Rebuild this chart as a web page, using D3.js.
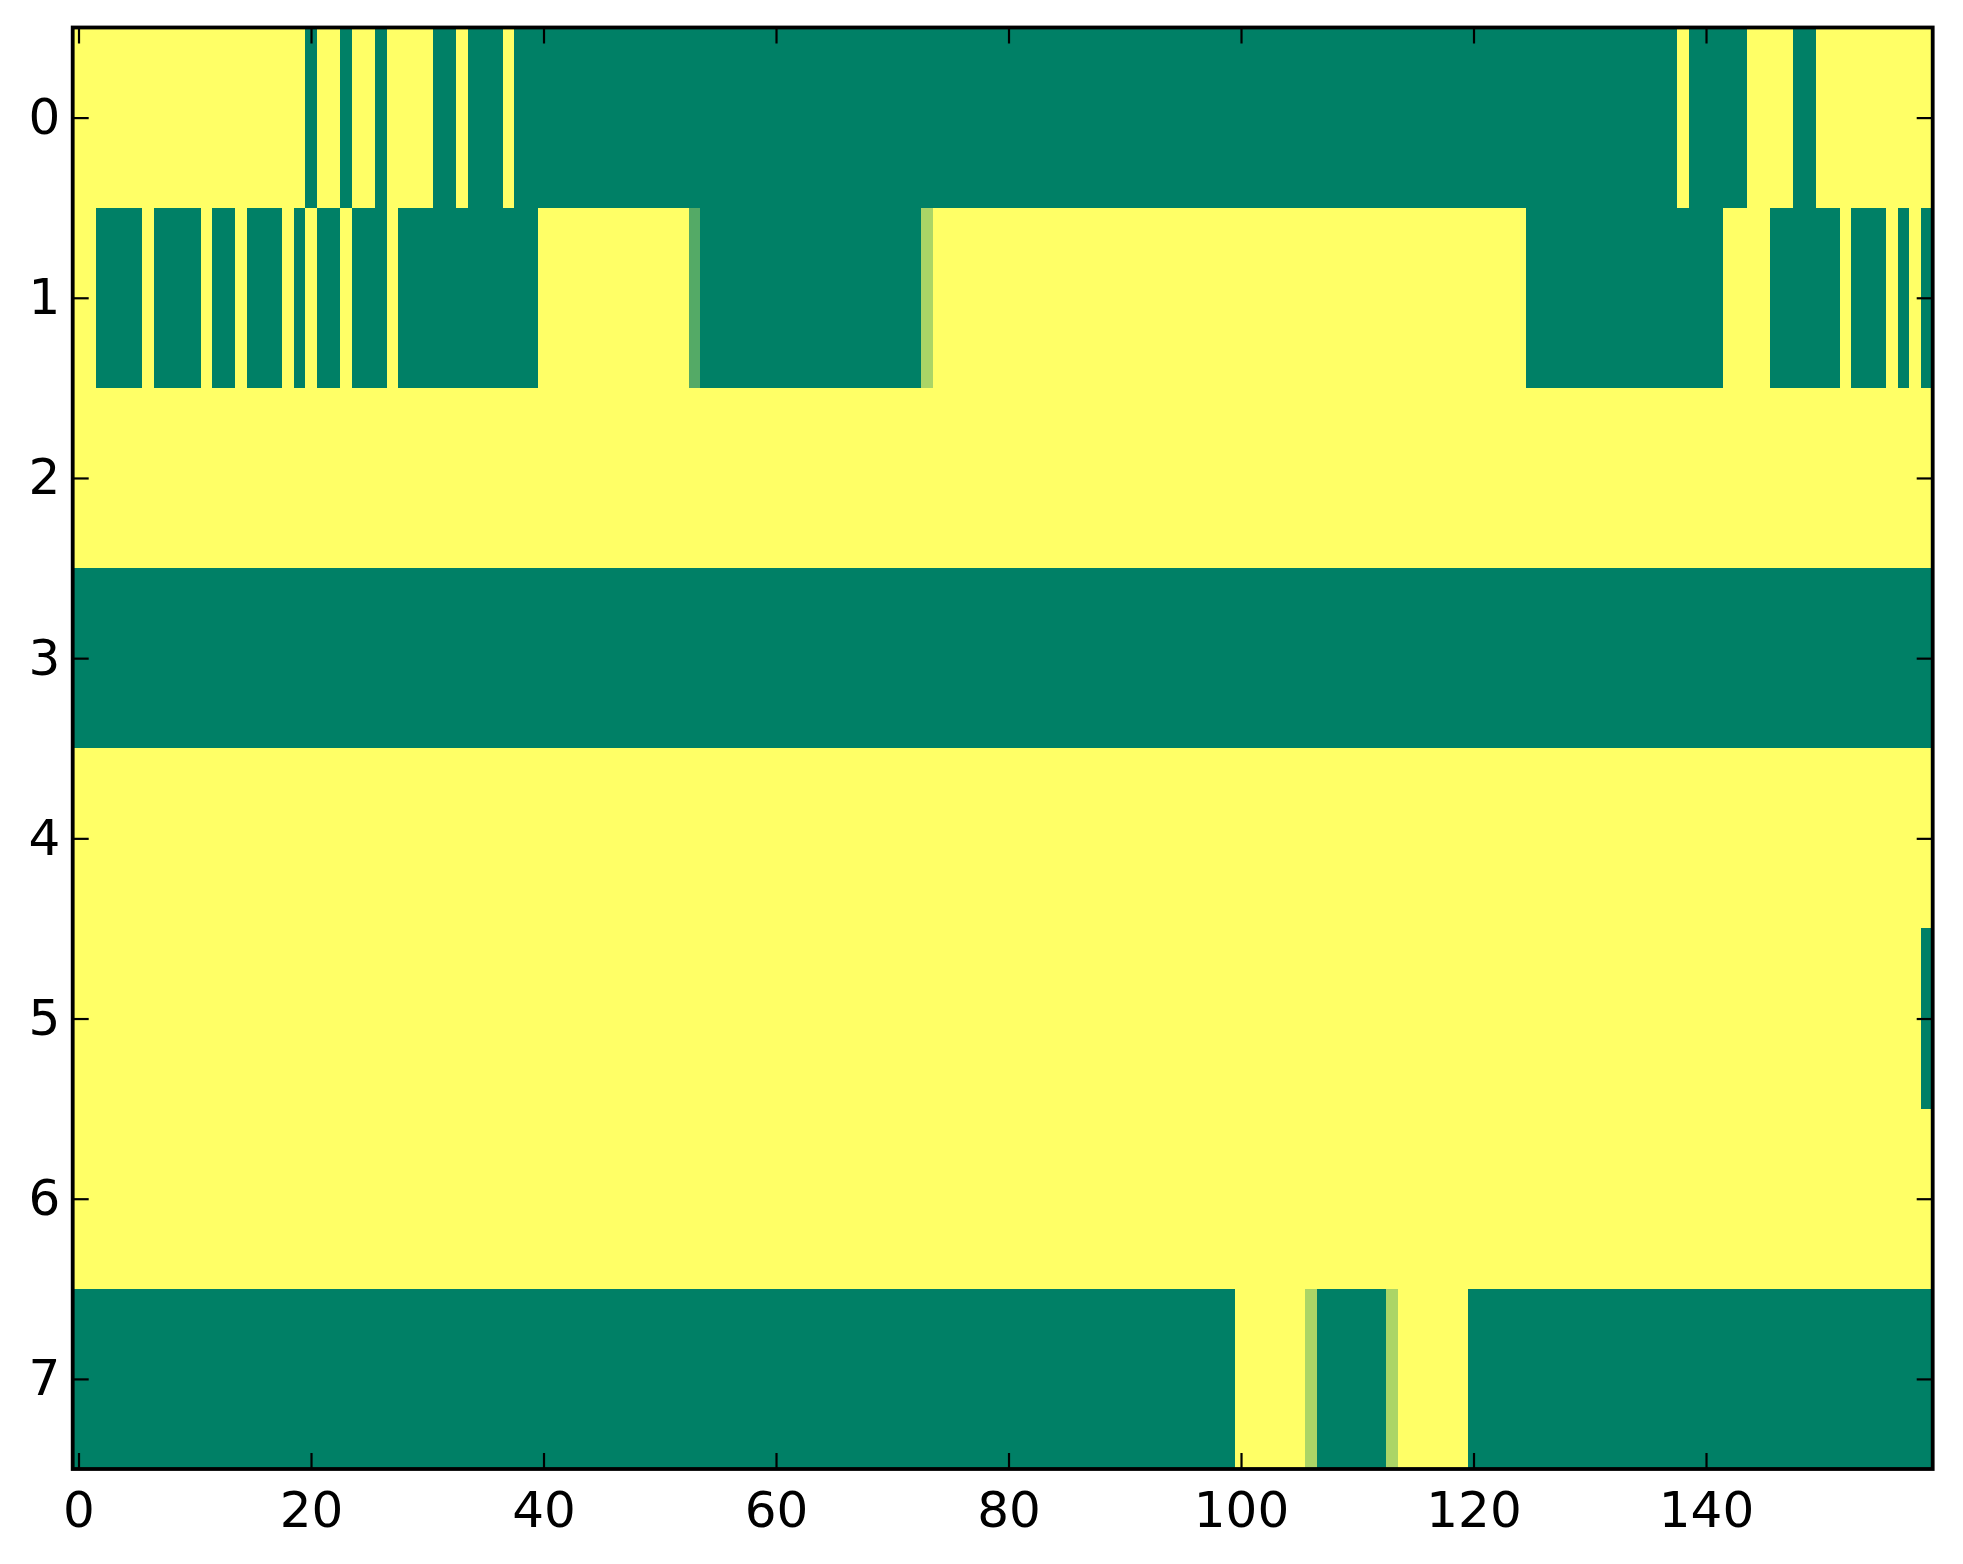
<!DOCTYPE html>
<html>
<head>
<meta charset="utf-8">
<script src="https://cdn.jsdelivr.net/npm/d3@7"></script>
<style>
  body { margin: 0; background: #fff; }
  svg { display: block; }
  .tick text { font-family: "DejaVu Sans", sans-serif; font-size: 50px; fill: #000; }
</style>
</head>
<body>
<div id="chart"></div>
<script>
(function() {
"use strict"

// rows of the image, 160 columns each (0 = green end, 1 = yellow end)
var row0 = [
  1,1,1,1,1,1,1,1,1,1,1,1,1,1,1,1,1,1,1,1, 0,1,1,0,1,1,0,1,1,1,1,0,0,1,0,0,0,1,0,0,
  0,0,0,0,0,0,0,0,0,0,0,0,0,0,0,0,0,0,0,0, 0,0,0,0,0,0,0,0,0,0,0,0,0,0,0,0,0,0,0,0,
  0,0,0,0,0,0,0,0,0,0,0,0,0,0,0,0,0,0,0,0, 0,0,0,0,0,0,0,0,0,0,0,0,0,0,0,0,0,0,0,0,
  0,0,0,0,0,0,0,0,0,0,0,0,0,0,0,0,0,0,1,0, 0,0,0,0,1,1,1,1,0,0,1,1,1,1,1,1,1,1,1,1
];
var row1 = [
  1,1,0,0,0,0,1,0,0,0,0,1,0,0,1,0,0,0,1,0, 1,0,0,1,0,0,0,1,0,0,0,0,0,0,0,0,0,0,0,0,
  1,1,1,1,1,1,1,1,1,1,1,1,1,0.33,0,0,0,0,0,0, 0,0,0,0,0,0,0,0,0,0,0,0,0,0.67,1,1,1,1,1,1,
  1,1,1,1,1,1,1,1,1,1,1,1,1,1,1,1,1,1,1,1, 1,1,1,1,1,1,1,1,1,1,1,1,1,1,1,1,1,1,1,1,
  1,1,1,1,1,0,0,0,0,0,0,0,0,0,0,0,0,0,0,0, 0,0,1,1,1,1,0,0,0,0,0,0,1,0,0,0,1,0,1,0
];
var row2 = [
  1,1,1,1,1,1,1,1,1,1,1,1,1,1,1,1,1,1,1,1, 1,1,1,1,1,1,1,1,1,1,1,1,1,1,1,1,1,1,1,1,
  1,1,1,1,1,1,1,1,1,1,1,1,1,1,1,1,1,1,1,1, 1,1,1,1,1,1,1,1,1,1,1,1,1,1,1,1,1,1,1,1,
  1,1,1,1,1,1,1,1,1,1,1,1,1,1,1,1,1,1,1,1, 1,1,1,1,1,1,1,1,1,1,1,1,1,1,1,1,1,1,1,1,
  1,1,1,1,1,1,1,1,1,1,1,1,1,1,1,1,1,1,1,1, 1,1,1,1,1,1,1,1,1,1,1,1,1,1,1,1,1,1,1,1
];
var row3 = [
  0,0,0,0,0,0,0,0,0,0,0,0,0,0,0,0,0,0,0,0, 0,0,0,0,0,0,0,0,0,0,0,0,0,0,0,0,0,0,0,0,
  0,0,0,0,0,0,0,0,0,0,0,0,0,0,0,0,0,0,0,0, 0,0,0,0,0,0,0,0,0,0,0,0,0,0,0,0,0,0,0,0,
  0,0,0,0,0,0,0,0,0,0,0,0,0,0,0,0,0,0,0,0, 0,0,0,0,0,0,0,0,0,0,0,0,0,0,0,0,0,0,0,0,
  0,0,0,0,0,0,0,0,0,0,0,0,0,0,0,0,0,0,0,0, 0,0,0,0,0,0,0,0,0,0,0,0,0,0,0,0,0,0,0,0
];
var row4 = [
  1,1,1,1,1,1,1,1,1,1,1,1,1,1,1,1,1,1,1,1, 1,1,1,1,1,1,1,1,1,1,1,1,1,1,1,1,1,1,1,1,
  1,1,1,1,1,1,1,1,1,1,1,1,1,1,1,1,1,1,1,1, 1,1,1,1,1,1,1,1,1,1,1,1,1,1,1,1,1,1,1,1,
  1,1,1,1,1,1,1,1,1,1,1,1,1,1,1,1,1,1,1,1, 1,1,1,1,1,1,1,1,1,1,1,1,1,1,1,1,1,1,1,1,
  1,1,1,1,1,1,1,1,1,1,1,1,1,1,1,1,1,1,1,1, 1,1,1,1,1,1,1,1,1,1,1,1,1,1,1,1,1,1,1,1
];
var row5 = [
  1,1,1,1,1,1,1,1,1,1,1,1,1,1,1,1,1,1,1,1, 1,1,1,1,1,1,1,1,1,1,1,1,1,1,1,1,1,1,1,1,
  1,1,1,1,1,1,1,1,1,1,1,1,1,1,1,1,1,1,1,1, 1,1,1,1,1,1,1,1,1,1,1,1,1,1,1,1,1,1,1,1,
  1,1,1,1,1,1,1,1,1,1,1,1,1,1,1,1,1,1,1,1, 1,1,1,1,1,1,1,1,1,1,1,1,1,1,1,1,1,1,1,1,
  1,1,1,1,1,1,1,1,1,1,1,1,1,1,1,1,1,1,1,1, 1,1,1,1,1,1,1,1,1,1,1,1,1,1,1,1,1,1,1,0
];
var row6 = [
  1,1,1,1,1,1,1,1,1,1,1,1,1,1,1,1,1,1,1,1, 1,1,1,1,1,1,1,1,1,1,1,1,1,1,1,1,1,1,1,1,
  1,1,1,1,1,1,1,1,1,1,1,1,1,1,1,1,1,1,1,1, 1,1,1,1,1,1,1,1,1,1,1,1,1,1,1,1,1,1,1,1,
  1,1,1,1,1,1,1,1,1,1,1,1,1,1,1,1,1,1,1,1, 1,1,1,1,1,1,1,1,1,1,1,1,1,1,1,1,1,1,1,1,
  1,1,1,1,1,1,1,1,1,1,1,1,1,1,1,1,1,1,1,1, 1,1,1,1,1,1,1,1,1,1,1,1,1,1,1,1,1,1,1,1
];
var row7 = [
  0,0,0,0,0,0,0,0,0,0,0,0,0,0,0,0,0,0,0,0, 0,0,0,0,0,0,0,0,0,0,0,0,0,0,0,0,0,0,0,0,
  0,0,0,0,0,0,0,0,0,0,0,0,0,0,0,0,0,0,0,0, 0,0,0,0,0,0,0,0,0,0,0,0,0,0,0,0,0,0,0,0,
  0,0,0,0,0,0,0,0,0,0,0,0,0,0,0,0,0,0,0,0, 1,1,1,1,1,1,0.67,0,0,0,0,0,0,0.67,1,1,1,1,1,1,
  0,0,0,0,0,0,0,0,0,0,0,0,0,0,0,0,0,0,0,0, 0,0,0,0,0,0,0,0,0,0,0,0,0,0,0,0,0,0,0,0
];
var rows = [row0, row1, row2, row3, row4, row5, row6, row7];

var xTicks = [0, 20, 40, 60, 80, 100, 120, 140];
var yTicks = [0, 1, 2, 3, 4, 5, 6, 7];

var W = 1963, H = 1564;
var margin = {top: 27.5, right: 30.3, bottom: 95, left: 72.7};
var width = W - margin.left - margin.right,
    height = H - margin.top - margin.bottom;

var svg = d3.select("#chart").append("svg")
    .attr("width", W)
    .attr("height", H);

var g = svg.append("g")
    .attr("transform", "translate(" + margin.left + "," + margin.top + ")");

var ncol = rows[0].length;
var xscale = d3.scaleLinear().domain([-0.5, ncol - 0.5]).range([0, width]);
var yscale = d3.scaleLinear().domain([-0.5, rows.length - 0.5]).range([0, height]);

// matplotlib "summer": (v, 0.5+0.5v, 0.4)
var color = d3.scaleLinear().domain([0, 1]).range(["#008066", "#ffff66"]);

var cells = [];
rows.forEach(function(r, i) {
    r.forEach(function(v, j) { cells.push({row: i, col: j, v: v}); });
});

g.append("g").selectAll("rect")
    .data(cells)
    .enter().append("rect")
    .attr("x", function(d) { return xscale(d.col - 0.5); })
    .attr("y", function(d) { return yscale(d.row - 0.5); })
    .attr("width", function(d) { return xscale(d.col + 0.5) - xscale(d.col - 0.5) + 0.5; })
    .attr("height", function(d) { return yscale(d.row + 0.5) - yscale(d.row - 0.5) + 0.5; })
    .attr("shape-rendering", "crispEdges")
    .style("fill", function(d) { return color(d.v); });

// axes: inward ticks on all four sides
var tl = 16;
var axB = g.append("g").attr("transform", "translate(0," + height + ")")
    .call(d3.axisBottom(xscale).tickValues(xTicks).tickSizeInner(-tl).tickSizeOuter(0).tickPadding(20));
var axT = g.append("g")
    .call(d3.axisTop(xscale).tickValues(xTicks).tickSizeInner(-tl).tickSizeOuter(0).tickFormat(""));
var axL = g.append("g")
    .call(d3.axisLeft(yscale).tickValues(yTicks).tickSizeInner(-tl).tickSizeOuter(0).tickPadding(12.5));
var axR = g.append("g").attr("transform", "translate(" + width + ",0)")
    .call(d3.axisRight(yscale).tickValues(yTicks).tickSizeInner(-tl).tickSizeOuter(0).tickFormat(""));

[axB, axT, axL, axR].forEach(function(a) {
    a.select(".domain").remove();
    a.selectAll(".tick line").style("stroke", "#000").style("stroke-width", 2.2);
});
axB.selectAll(".tick text").attr("dy", "0.76em");

// frame
g.append("rect")
    .attr("x", 0).attr("y", 0)
    .attr("width", width).attr("height", height)
    .style("fill", "none")
    .style("stroke", "#000")
    .style("stroke-width", 3.8);
})();
</script>
</body>
</html>
